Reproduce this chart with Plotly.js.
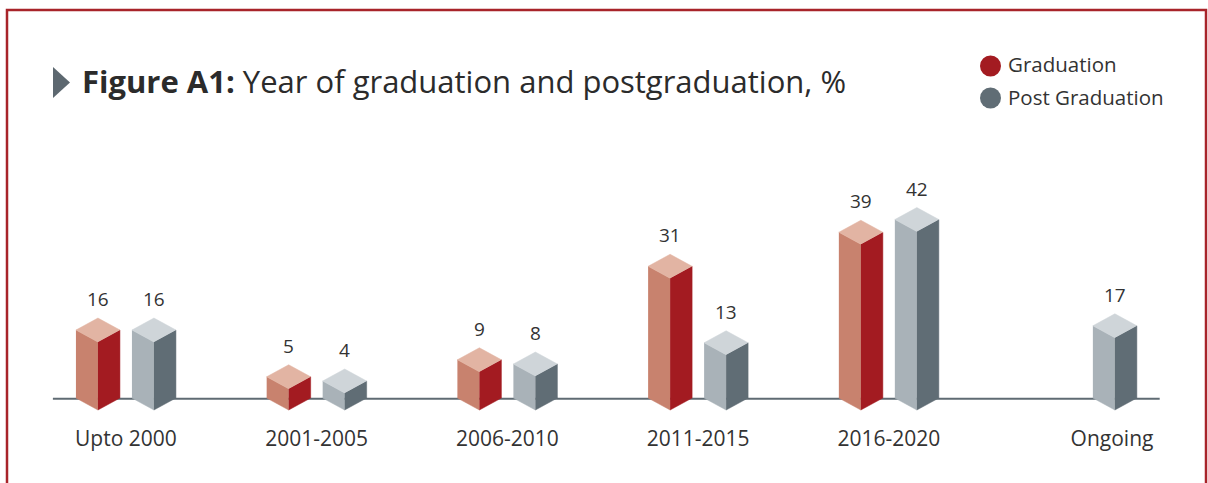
<!DOCTYPE html>
<html><head><meta charset="utf-8">
<script src="https://cdn.plot.ly/plotly-3.0.1.min.js"></script>
<style>html,body{margin:0;padding:0;background:#fff;}</style>
</head><body>
<div id="chart" style="width:1208px;height:483px;"></div>
<script>
// ---- data ----
const categories = ["Upto 2000", "2001-2005", "2006-2010", "2011-2015", "2016-2020", "Ongoing"];
const graduation = [16, 5, 9, 31, 39, null];
const postGraduation = [16, 4, 8, 13, 42, 17];
const seriesNames = ["Graduation", "Post Graduation"];

// ---- layout geometry ----
const W = 1208, H = 483;
const M = {l: 30, r: 30, t: 150, b: 59};
const xRange = [-0.503, 5.516];
const yRange = [-3.29, 61.18];
const pxX = (W - M.l - M.r) / (xRange[1] - xRange[0]);
const pxY = (H - M.t - M.b) / (yRange[1] - yRange[0]);
const hw = 22 / pxX;      // half width of a box
const dy = 12 / pxY;      // isometric depth in value units
const off = 28 / pxX;     // offset of bar from group centre
const groupX = categories.map((c, i) => i + (i === 5 ? 0.17 : 0));

const colors = {
  grad: {left: "#c8826e", right: "#a31b21", top: "#e2b4a3", legend: "#a31b21"},
  post: {left: "#a9b2b8", right: "#606d75", top: "#cfd5d9", legend: "#606d75"}
};

function faces(centres, values) {
  const L = {x: [], y: []}, R = {x: [], y: []}, T = {x: [], y: []};
  centres.forEach((c, i) => {
    const v = values[i];
    if (v === null || v === undefined) return;
    L.x.push(c - hw, c, c, c - hw, null); L.y.push(dy, 0, v, v + dy, null);
    R.x.push(c, c + hw, c + hw, c, null); R.y.push(0, dy, v + dy, v, null);
    T.x.push(c, c - hw, c, c + hw, null); T.y.push(v, v + dy, v + 2 * dy, v + dy, null);
  });
  return {L, R, T};
}

const gradCentres = groupX.map((g, i) => postGraduation[i] == null ? g : g - off);
const postCentres = groupX.map((g, i) => graduation[i] == null ? g + 0.015 : g + off);

const traces = [];
function addSeries(centres, values, col, name) {
  const f = faces(centres, values);
  [["L", col.left], ["R", col.right], ["T", col.top]].forEach(([k, c]) => {
    traces.push({type: "scatter", mode: "lines", x: f[k].x, y: f[k].y, fill: "toself",
      fillcolor: c, line: {width: 0.5, color: c}, hoverinfo: "skip", showlegend: false, name: name});
  });
}
addSeries(gradCentres, graduation, colors.grad, seriesNames[0]);
addSeries(postCentres, postGraduation, colors.post, seriesNames[1]);

const font = "'Open Sans', Lato, sans-serif";
const annotations = [];
function addLabels(centres, values) {
  centres.forEach((c, i) => {
    const v = values[i];
    if (v === null || v === undefined) return;
    annotations.push({x: c, y: v + 2 * dy, xref: "x", yref: "y", text: String(v), showarrow: false,
      yanchor: "middle", yshift: 19, font: {family: font, size: 19, color: "#333333"}});
  });
}
addLabels(gradCentres, graduation);
addLabels(postCentres, postGraduation);

// helpers pixel -> paper
const paperX = px => (px - M.l) / (W - M.l - M.r);
const paperY = py => (H - M.b - py) / (H - M.t - M.b);

// legend (manual)
const legendItems = [{name: seriesNames[0], color: colors.grad.legend, y: 66},
                     {name: seriesNames[1], color: colors.post.legend, y: 98}];
const shapes = [];
legendItems.forEach(it => {
  shapes.push({type: "circle", xref: "paper", yref: "paper",
    x0: paperX(980), x1: paperX(1001), y0: paperY(it.y + 10.5), y1: paperY(it.y - 10.5),
    fillcolor: it.color, line: {width: 0}});
  annotations.push({xref: "paper", yref: "paper", x: paperX(1006), y: paperY(it.y - 1.5), xanchor: "left",
    yanchor: "middle", text: it.name, showarrow: false, font: {family: font, size: 20.5, color: "#333333"}});
});

// baseline
shapes.push({type: "line", xref: "x", yref: "y", x0: xRange[0] + 0.12, x1: 5.42, y0: dy - 0.2, y1: dy - 0.2,
  line: {color: "#5f6b73", width: 2}, layer: "below"});
// title triangle
shapes.push({type: "path", xref: "paper", yref: "paper",
  path: `M ${paperX(53)} ${paperY(67)} L ${paperX(70)} ${paperY(82.5)} L ${paperX(53)} ${paperY(98)} Z`,
  fillcolor: "#5d6870", line: {width: 0}});
// frame
shapes.push({type: "rect", xref: "paper", yref: "paper",
  x0: paperX(7), x1: paperX(1206), y0: paperY(492), y1: paperY(10),
  fillcolor: "rgba(0,0,0,0)", line: {color: "#a8242a", width: 2.5}});

const layout = {
  width: W, height: H,
  margin: M,
  paper_bgcolor: "#ffffff", plot_bgcolor: "#ffffff",
  showlegend: false,
  title: {text: "<b>Figure A1:</b> Year of graduation and postgraduation, %",
    xref: "container", yref: "container", x: 82 / W, xanchor: "left", y: 1 - 82 / H, yanchor: "middle",
    font: {family: font, size: 31, color: "#2b2b2b"}},
  xaxis: {range: xRange, tickvals: groupX, ticktext: categories, showgrid: false, zeroline: false,
    showline: false, ticks: "", tickfont: {family: font, size: 21, color: "#333333"}, fixedrange: true},
  yaxis: {range: yRange, visible: false, showgrid: false, zeroline: false, fixedrange: true},
  shapes: shapes,
  annotations: annotations
};

Plotly.newPlot("chart", traces, layout, {displayModeBar: false, staticPlot: true});
</script>
</body></html>
